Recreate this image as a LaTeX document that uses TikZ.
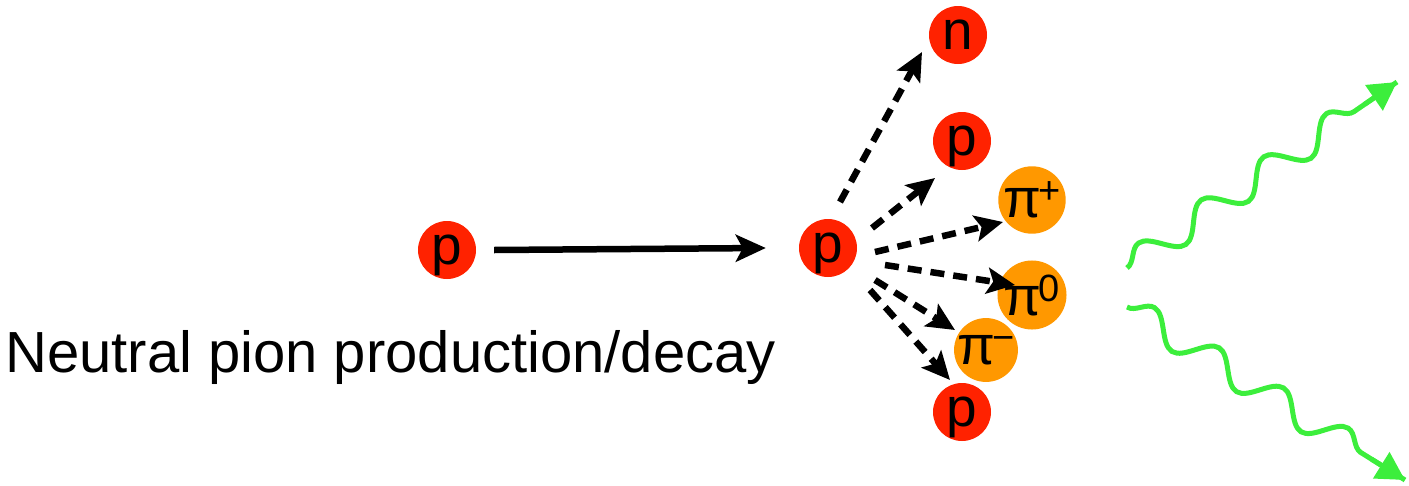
\documentclass[tikz,border=0pt]{standalone}
\usepackage{fontspec}
\setmainfont{Liberation Sans}
\usetikzlibrary{arrows.meta,decorations.pathmorphing,calc}
\definecolor{pred}{RGB}{255,34,0}
\definecolor{porange}{RGB}{255,152,0}
\definecolor{pgreen}{RGB}{60,238,60}
\newcommand{\chg}[1]{\raisebox{14pt}{\fontsize{38}{38}\selectfont #1}}
\tikzset{
  particle/.style={circle,inner sep=0pt,minimum size=58pt,text depth=0pt,
    font=\fontsize{55}{55}\selectfont},
  baryon/.style={particle,fill=pred},
  pion/.style={particle,fill=porange},
  beam/.style={line width=6.5pt,-{Stealth[length=30pt,width=27pt,inset=7pt]}},
  product/.style={line width=6.5pt,dash pattern=on 14pt off 9pt,
    -{Stealth[length=28pt,width=26pt,inset=6pt]}},
  photon/.style={pgreen,line width=5pt,
    decoration={snake,segment length=76pt,amplitude=14pt,post length=26pt},
    decorate},
  photonhead/.style={pgreen,line width=5pt,-{Triangle[length=28pt,width=30pt]}},
}
\begin{document}
\begin{tikzpicture}[x=1pt,y=-1pt]
\useasboundingbox (0,0) rectangle (1409,485);
\node[baryon] (pin) at (447,250) {p};
\node[baryon] (pc) at (828,248) {p};
\node[baryon] (n) at (958,35) {n};
\node[baryon] (p2) at (962,141) {p};
\node[pion] (pip) at (1032,200) {π\kern-3pt\chg{+}};
\node[pion] (pi0) at (1032,295) {π\kern-3pt\chg{0}};
\node[pion] (pim) at (986,350) {π\kern-3pt\chg{−}};
\node[baryon] (p3) at (962,412) {p};
\node[anchor=base west,inner sep=0pt,font=\fontsize{58}{58}\selectfont] (cap) at (5,372) {Neutral pion production/decay};
% incoming
\draw[beam] ([xshift=18pt]pin.east) -- ([xshift=-33pt]pc.west);
% products
\draw[product] ([shift={(12,-46)}]pc.center) -- ([shift={(-36,17)}]n.center);
\draw[product] ([shift={(44,-20)}]pc.center) -- ([shift={(-27,37)}]p2.center);
\draw[product] ([shift={(47,4)}]pc.center) -- ([shift={(-29,22)}]pip.center);
\draw[product] ([shift={(57,17)}]pc.center) -- ([shift={(-17,-10)}]pi0.center);
\draw[product] ([shift={(47,32)}]pc.center) -- ([shift={(-31,-20)}]pim.center);
\draw[product] ([shift={(42,42)}]pc.center) -- ([shift={(-12,-32)}]p3.center);
% photons
\coordinate (g1s) at (1127,268);
\coordinate (g1e) at (1397,82);
\coordinate (g2s) at (1127,307);
\coordinate (g2e) at (1405,480);
\draw[photon] (g1s) -- (g1e);
\draw[photonhead] ($(g1s)!0.88!(g1e)$) -- (g1e);
\draw[photon] (g2s) -- (g2e);
\draw[photonhead] ($(g2s)!0.88!(g2e)$) -- (g2e);
\end{tikzpicture}
\end{document}
